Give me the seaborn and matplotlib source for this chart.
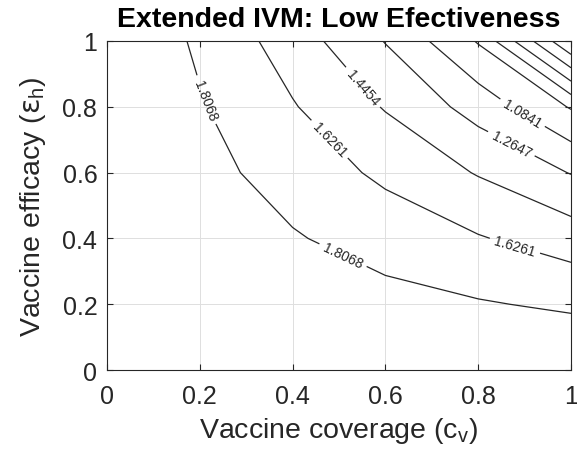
import numpy as np
import matplotlib
matplotlib.use("Agg")
import matplotlib.pyplot as plt
import seaborn as sns

# Data: grid of values
coverage = [0.0, 0.2, 0.4, 0.6, 0.8, 1.0]   # c_v (x)
efficacy = [0.0, 0.2, 0.4, 0.6, 0.8, 1.0]   # eps_h (y)
# rows follow efficacy, columns follow coverage
z_row_e00 = [1.9875, 1.9875, 1.9875, 1.9875, 1.9875, 1.9875]
z_row_e02 = [1.9875, 1.9473, 1.9063, 1.8644, 1.8216, 1.7777]
z_row_e04 = [1.9875, 1.9063, 1.8216, 1.7327, 1.6389, 1.5395]
z_row_e06 = [1.9875, 1.8644, 1.7327, 1.5900, 1.4332, 1.2570]
z_row_e08 = [1.9875, 1.8216, 1.6389, 1.4332, 1.1925, 0.8888]
z_row_e10 = [1.9875, 1.7777, 1.5395, 1.2570, 0.8888, 0.0000]
levels = [0.1807, 0.3614, 0.5420, 0.7227, 0.9034, 1.0841, 1.2647, 1.4454, 1.6261, 1.8068]
tick_values = [0, 0.2, 0.4, 0.6, 0.8, 1]
tick_labels = ["0", "0.2", "0.4", "0.6", "0.8", "1"]
label_spots = [(0.207, 0.818), (0.509, 0.35), (0.48, 0.702), (0.879, 0.377),
               (0.552, 0.86), (0.869, 0.681), (0.894, 0.778)]

sns.set_theme(style="whitegrid")
plt.rcParams["font.family"] = ["Liberation Sans", "DejaVu Sans"]
plt.rcParams["mathtext.fontset"] = "custom"
plt.rcParams["mathtext.rm"] = "Liberation Sans"
plt.rcParams["mathtext.it"] = "DejaVu Sans"

Z = np.array([z_row_e00, z_row_e02, z_row_e04, z_row_e06, z_row_e08, z_row_e10])
X, Y = np.meshgrid(coverage, efficacy)

fig = plt.figure(figsize=(5.77, 4.64), dpi=100)
ax = fig.add_axes([0.1854, 0.2004, 0.8042, 0.7091])
ax.set_facecolor("white")

cs = ax.contour(X, Y, Z, levels=levels, colors="#262626", linewidths=0.9)
ax.clabel(cs, inline=True, fmt="%.4f", fontsize=10, colors="#262626",
          manual=label_spots, inline_spacing=5)

ax.set_xlim(0, 1)
ax.set_ylim(0, 1)
ax.set_xticks(tick_values)
ax.set_xticklabels(tick_labels)
ax.set_yticks(tick_values)
ax.set_yticklabels(tick_labels)
ax.grid(True, color="#dedede", linewidth=0.7)
for s in ax.spines.values():
    s.set_visible(True)
    s.set_color("#262626")
    s.set_linewidth(0.8)
ax.tick_params(direction="in", length=4, width=0.8, color="#262626",
               labelsize=18, labelcolor="#262626", top=True, right=True,
               bottom=True, left=True)
ax.tick_params(axis="x", pad=10)
ax.tick_params(axis="y", pad=7)
ax.set_xlabel(r"Vaccine coverage (c$_{\mathrm{v}}$)", fontsize=20.5, color="#262626", labelpad=5)
ax.set_ylabel(r"Vaccine efficacy ($\varepsilon_{\mathrm{h}}$)", fontsize=20.5, color="#262626", labelpad=10)
ax.set_title("Extended IVM: Low Efectiveness", fontsize=20.5, fontweight="bold", color="black", pad=11)

fig.savefig("out.png", dpi=100, facecolor="white")
